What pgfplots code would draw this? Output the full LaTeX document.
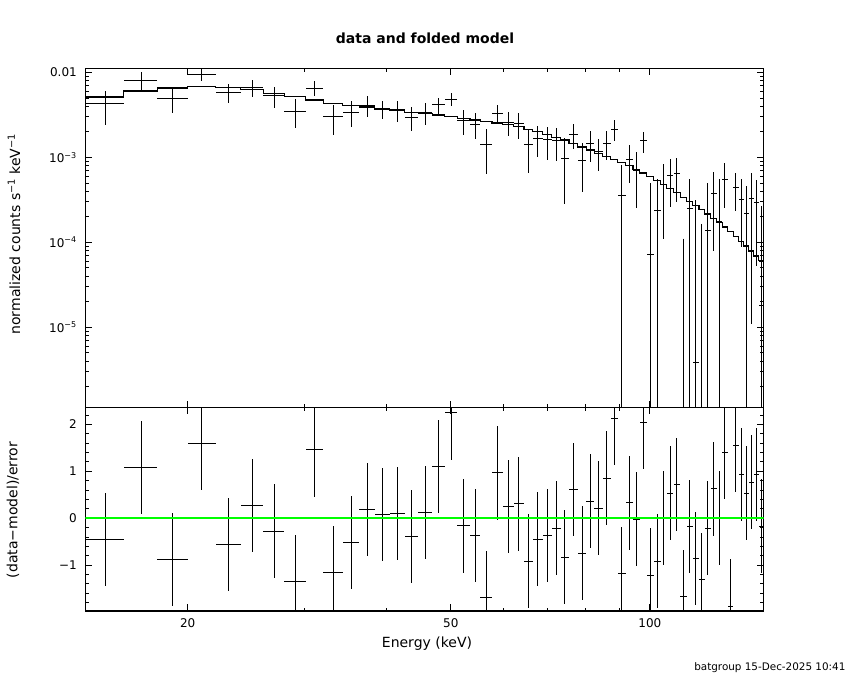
\documentclass[border=0pt]{standalone}
\usepackage{fontspec}
\setmainfont{DejaVu Sans}
\usepackage{pgfplots}
\usepackage{pgfplotstable}
\pgfplotsset{compat=1.18}

% bin edges (keV), folded model (counts/s/keV), residual (data-model)/error
\pgfplotstableread{
elo ehi M r
14 16 5.13e-3 -0.455
16 18 6.04e-3 1.08
18 20 6.55e-3 -0.88
20 22.04 6.85e-3 1.59
22.04 24.05 6.66e-3 -0.56
24.05 26.03 6.30e-3 0.27
26.03 28 5.66e-3 -0.28
28 30.17 5.22e-3 -1.35
30.17 32.08 4.76e-3 1.46
32.08 34.29 4.31e-3 -1.16
34.29 36.37 4.05e-3 -0.52
36.37 38.37 3.91e-3 0.185
38.37 40.43 3.66e-3 0.08
40.43 42.60 3.54e-3 0.10
42.60 44.67 3.38e-3 -0.39
44.67 46.91 3.29e-3 0.12
46.91 48.92 3.15e-3 1.10
48.92 51.18 3.01e-3 2.25
51.18 53.43 2.85e-3 -0.16
53.43 55.45 2.75e-3 -0.37
55.45 57.69 2.65e-3 -1.69
57.69 59.94 2.55e-3 0.97
59.94 62.21 2.44e-3 0.25
62.21 64.49 2.29e-3 0.31
64.49 66.54 2.13e-3 -0.92
66.54 68.83 2.00e-3 -0.45
68.83 71.02 1.86e-3 -0.37
71.02 73.28 1.71e-3 -0.21
73.28 75.51 1.60e-3 -0.83
75.51 77.84 1.46e-3 0.61
77.84 80.13 1.33e-3 -0.75
80.13 82.39 1.22e-3 0.36
82.39 84.83 1.11e-3 0.21
84.83 87.23 1.02e-3 0.85
87.23 89.38 9.36e-4 2.13
89.38 91.91 8.70e-4 -1.18
91.91 94.27 7.96e-4 0.33
94.27 96.50 7.20e-4 -0.02
96.50 98.88 6.53e-4 2.04
98.88 101.3 5.90e-4 -1.22
101.3 103.8 5.34e-4 -0.92
103.8 106.1 4.75e-4 0.0
106.1 108.6 4.26e-4 0.53
108.6 111.2 3.83e-4 0.72
111.2 113.7 3.40e-4 -1.67
113.7 116.1 3.05e-4 -0.18
116.1 118.7 2.71e-4 -0.86
118.7 121.0 2.43e-4 -1.31
121.0 123.6 2.16e-4 -0.21
123.6 126.2 1.92e-4 0.63
126.2 128.7 1.71e-4 0.01
128.7 131.1 1.51e-4 1.40
131.1 133.7 1.33e-4 -1.88
133.7 136.3 1.17e-4 1.56
136.3 138.7 1.03e-4 0.93
138.7 141.1 9.07e-5 0.53
141.1 143.6 7.9e-5 0.77
143.6 146.1 6.9e-5 0.93
146.1 148.7 6.0e-5 -0.17
}\bins

% data points with positive rate
\pgfplotstableread{
elo ehi D sig
14 16 4.27e-3 1.85e-3
16 18 8.13e-3 2.07e-3
18 20 4.99e-3 1.70e-3
20 22.04 9.58e-3 1.70e-3
22.04 24.05 5.88e-3 1.53e-3
24.05 26.03 6.70e-3 1.50e-3
26.03 28 5.31e-3 1.50e-3
28 30.17 3.51e-3 1.30e-3
30.17 32.08 6.55e-3 1.30e-3
32.08 34.29 3.00e-3 1.16e-3
34.29 36.37 3.41e-3 1.15e-3
36.37 38.37 4.10e-3 1.13e-3
38.37 40.43 3.73e-3 0.91e-3
40.43 42.60 3.62e-3 1.03e-3
42.60 44.67 2.98e-3 0.96e-3
44.67 46.91 3.40e-3 1.00e-3
46.91 48.92 4.16e-3 0.90e-3
48.92 51.18 4.85e-3 0.86e-3
51.18 53.43 2.72e-3 0.90e-3
53.43 55.45 2.47e-3 0.82e-3
55.45 57.69 1.40e-3 0.77e-3
57.69 59.94 3.32e-3 0.85e-3
59.94 62.21 2.60e-3 0.82e-3
62.21 64.49 2.50e-3 0.84e-3
64.49 66.54 1.40e-3 0.75e-3
66.54 68.83 1.69e-3 0.68e-3
68.83 71.02 1.61e-3 0.67e-3
71.02 73.28 1.56e-3 0.65e-3
73.28 75.51 0.98e-3 0.70e-3
75.51 77.84 1.85e-3 0.60e-3
77.84 80.13 0.93e-3 0.54e-3
80.13 82.39 1.45e-3 0.57e-3
82.39 84.83 1.18e-3 0.48e-3
84.83 87.23 1.47e-3 0.55e-3
87.23 89.38 2.15e-3 0.58e-3
89.38 91.91 3.60e-4 4.55e-4
91.91 94.27 9.55e-4 4.50e-4
94.27 96.50 7.05e-4 4.50e-4
96.50 98.88 1.56e-3 4.30e-4
98.88 101.3 7.2e-5 4.26e-4
101.3 103.8 2.35e-4 3.20e-4
103.8 106.1 4.75e-4 3.65e-4
106.1 108.6 6.07e-4 3.47e-4
108.6 111.2 6.40e-4 3.40e-4
113.7 116.1 2.50e-4 3.10e-4
116.1 118.7 3.8e-6 3.12e-4
121.0 123.6 1.39e-4 3.60e-4
123.6 126.2 3.79e-4 3.00e-4
126.2 128.7 1.75e-4 3.74e-4
128.7 131.1 5.55e-4 3.00e-4
133.7 136.3 4.47e-4 2.12e-4
136.3 138.7 3.22e-4 2.35e-4
138.7 141.1 2.16e-4 2.40e-4
141.1 143.6 3.31e-4 3.20e-4
143.6 146.1 2.97e-4 2.45e-4
146.1 148.7 1.8e-5 2.50e-4
}\pos

% data points with negative rate (only upper part of error bar visible)
\pgfplotstableread{
elo ehi D sig
111.2 113.7 -2.3e-4 3.40e-4
118.7 121.0 -8.5e-5 2.50e-4
}\negd

\begin{document}
\begin{tikzpicture}
\useasboundingbox (0,0) rectangle (850pt,680pt);
\begin{axis}[
  xmode=log, ymode=log,
  scale only axis, width=678.4pt, height=339pt,
  at={(85.3pt,272.5pt)}, anchor=south west,
  xmin=14, xmax=148.7, ymin=1.13e-6, ymax=1.115e-2,
  xtick={20,50,100}, minor xtick={30,40,60,70,80,90},
  xticklabels={},
  ytick={1e-5,1e-4,1e-3,1e-2},
  yticklabels={{10\textsuperscript{−5}},{10\textsuperscript{−4}},{10\textsuperscript{−3}},{0.01}},
  minor ytick={2e-6,3e-6,4e-6,5e-6,6e-6,7e-6,8e-6,9e-6,2e-5,3e-5,4e-5,5e-5,6e-5,7e-5,8e-5,9e-5,2e-4,3e-4,4e-4,5e-4,6e-4,7e-4,8e-4,9e-4,2e-3,3e-3,4e-3,5e-3,6e-3,7e-3,8e-3,9e-3},
  axis line style={line width=1.2pt},
  major tick style={line width=1pt,black},
  minor tick style={line width=0.8pt,black},
  major tick length=7pt, minor tick length=3.5pt,
  tick label style={font=\fontsize{12}{14}\selectfont},
  yticklabel style={xshift=-5pt},
  ]
\addplot[black, line width=1.3pt, const plot] table[x=elo,y=M]{\bins};
\addplot[black, line width=1.3pt] coordinates {(146.1,6.0e-5) (148.7,6.0e-5)};
\addplot[draw=none, mark=none,
  error bars/.cd, x dir=both, x explicit, y dir=both, y explicit,
  error mark=none, error bar style={draw=black, line width=1pt}]
  table[x expr={(\thisrow{elo}+\thisrow{ehi})/2}, y=D,
        x error minus expr={(\thisrow{ehi}-\thisrow{elo})/2},
        x error plus expr={(\thisrow{ehi}-\thisrow{elo})/2},
        y error plus=sig,
        y error minus expr={min(\thisrow{sig},\thisrow{D}-1e-9)}]{\pos};
\addplot[draw=none, mark=none,
  error bars/.cd, y dir=minus, y explicit,
  error mark=none, error bar style={draw=black, line width=1pt}]
  table[x expr={(\thisrow{elo}+\thisrow{ehi})/2},
        y expr={\thisrow{D}+\thisrow{sig}},
        y error minus expr={\thisrow{D}+\thisrow{sig}-1e-9}]{\negd};
\end{axis}

\begin{axis}[
  xmode=log,
  scale only axis, width=678.4pt, height=203.5pt,
  at={(85.3pt,69pt)}, anchor=south west,
  xmin=14, xmax=148.7, ymin=-1.98, ymax=2.36,
  xtick={20,50,100}, minor xtick={30,40,60,70,80,90},
  xticklabels={20,50,100},
  ytick={-1,0,1,2}, yticklabels={−1,0,1,2},
  minor ytick={-1.8,-1.6,-1.4,-1.2,-0.8,-0.6,-0.4,-0.2,0.2,0.4,0.6,0.8,1.2,1.4,1.6,1.8,2.2},
  axis line style={line width=1.2pt},
  major tick style={line width=1pt,black},
  minor tick style={line width=0.8pt,black},
  major tick length=7pt, minor tick length=3.5pt,
  tick label style={font=\fontsize{12}{14}\selectfont},
  yticklabel style={xshift=-5pt},
  xticklabel style={yshift=-4pt},
  ]
\addplot[draw=none, mark=none,
  error bars/.cd, x dir=both, x explicit, y dir=both, y explicit,
  error mark=none, error bar style={draw=black, line width=1pt}]
  table[x expr={(\thisrow{elo}+\thisrow{ehi})/2}, y=r,
        x error minus expr={(\thisrow{ehi}-\thisrow{elo})/2},
        x error plus expr={(\thisrow{ehi}-\thisrow{elo})/2},
        y error expr=1]{\bins};
\addplot[color={rgb,255:red,0;green,255;blue,0}, line width=2.2pt] coordinates {(14,0) (148.7,0)};
\end{axis}

\node[font=\bfseries\fontsize{14}{16}\selectfont] at (425pt,642pt) {data and folded model};
\node[rotate=90, font=\fontsize{14}{16}\selectfont] at (14pt,446pt) {normalized counts s\textsuperscript{−1} keV\textsuperscript{−1}};
\node[rotate=90, font=\fontsize{14}{16}\selectfont] at (13pt,170pt) {(data−model)/error};
\node[font=\fontsize{14}{16}\selectfont] at (427pt,36pt) {Energy (keV)};
\node[anchor=east, font=\fontsize{10.4}{12}\selectfont] at (849pt,12pt) {batgroup 15-Dec-2025 10:41};
\end{tikzpicture}
\end{document}
